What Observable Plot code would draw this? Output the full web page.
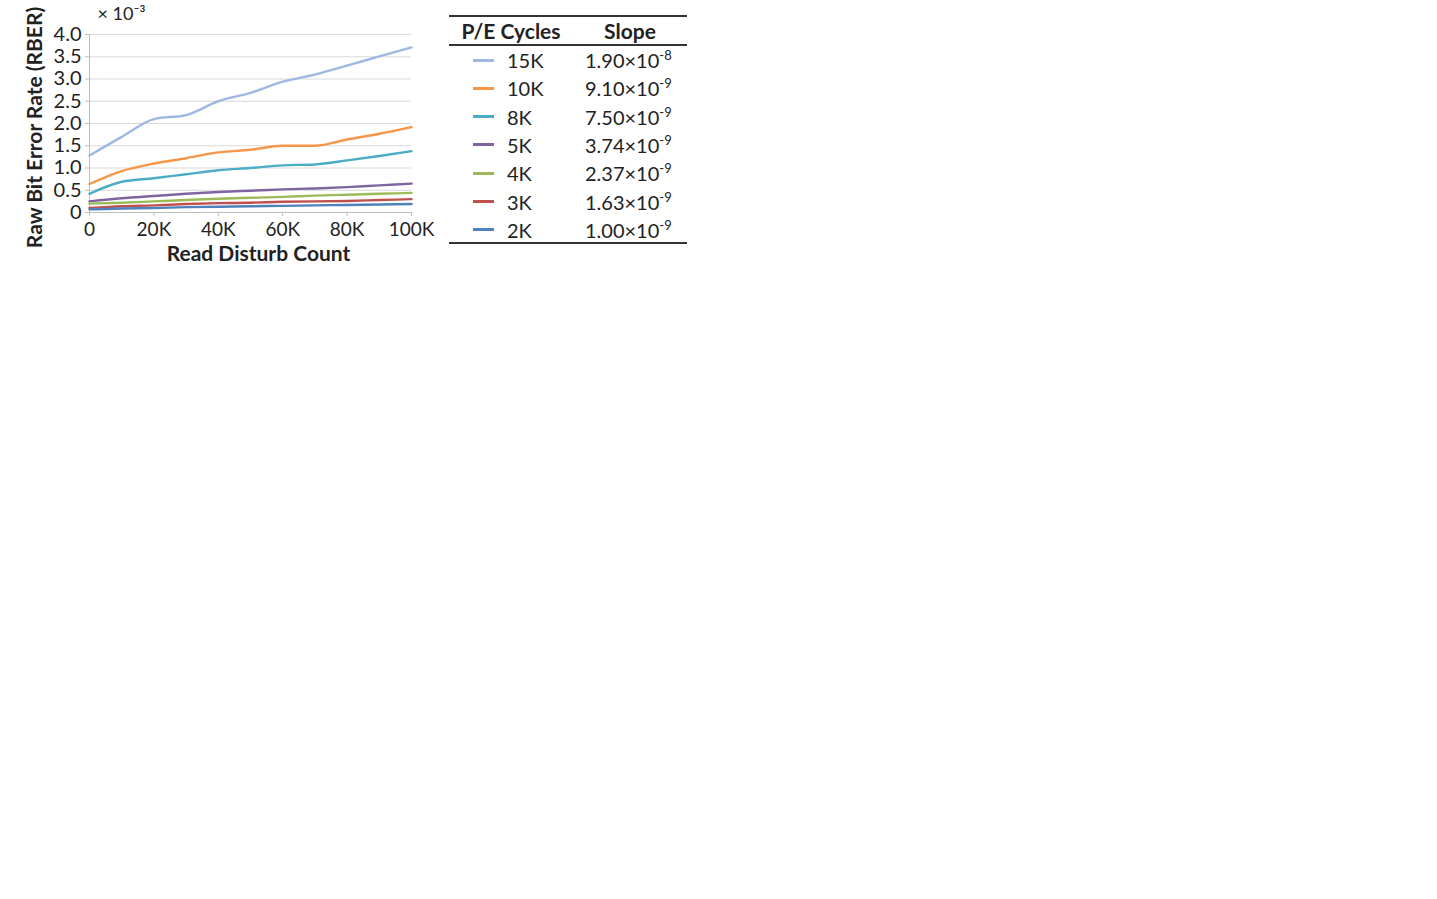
<!DOCTYPE html>
<html><head><meta charset="utf-8">
<script src="https://cdn.jsdelivr.net/npm/d3@7"></script>
<script src="https://cdn.jsdelivr.net/npm/@observablehq/plot@0.6"></script>
<style>
body{margin:0;background:#fff;font-family:Lato,"Open Sans",sans-serif;color:#222;}
#chart{position:absolute;left:0;top:0;}
#legend{position:absolute;left:449px;top:15px;width:238px;height:230px;font-size:20px;}
.hline{position:absolute;left:0;width:238px;background:#333;}
.cell{position:absolute;white-space:nowrap;line-height:22px;}
.sw{position:absolute;left:24px;width:21px;height:3px;}
sup{font-size:13px;vertical-align:0;position:relative;top:-8px;}
</style></head><body>
<div id="chart"></div>
<div id="legend"></div>
<script>
// Data (RBER in units of 10^-3)
const readCounts = [0,10000,20000,30000,40000,50000,60000,70000,80000,90000,100000];
const peCycles = ["15K","10K","8K","5K","4K","3K","2K"];
const seriesColors = ["#9db8e2","#f79646","#4bacc6","#8064a2","#9bbb59","#c0504d","#4f81bd"];
const slopeMantissa = ["1.90","9.10","7.50","3.74","2.37","1.63","1.00"];
const slopeExponent = ["-8","-9","-9","-9","-9","-9","-9"];
const rber15K = [1.28,1.70,2.10,2.19,2.50,2.69,2.94,3.10,3.30,3.51,3.71];
const rber10K = [0.64,0.93,1.10,1.22,1.35,1.41,1.50,1.50,1.64,1.77,1.92];
const rber8K  = [0.42,0.69,0.77,0.86,0.95,1.00,1.06,1.08,1.17,1.27,1.38];
const rber5K  = [0.25,0.32,0.37,0.42,0.46,0.49,0.52,0.54,0.57,0.61,0.65];
const rber4K  = [0.20,0.22,0.25,0.28,0.31,0.33,0.35,0.38,0.40,0.42,0.44];
const rber3K  = [0.10,0.14,0.16,0.19,0.21,0.22,0.24,0.25,0.26,0.28,0.30];
const rber2K  = [0.07,0.09,0.10,0.12,0.13,0.14,0.15,0.16,0.17,0.18,0.19];
const yTicks = [0,0.5,1,1.5,2,2.5,3,3.5,4];
const xTicks = [0,20000,40000,60000,80000,100000];

const allSeries = [rber15K,rber10K,rber8K,rber5K,rber4K,rber3K,rber2K];
const rows = [];
allSeries.forEach((vals,i)=>vals.forEach((v,j)=>rows.push({series:peCycles[i],x:readCounts[j],y:v})));

const chart = Plot.plot({
  width:440, height:270,
  marginLeft:89, marginRight:29, marginTop:34, marginBottom:58,
  style:{fontFamily:"Lato, 'Open Sans', sans-serif", fontSize:"19px", color:"#222", background:"transparent", overflow:"visible"},
  x:{domain:[0,100000]},
  y:{domain:[0,4]},
  color:{domain:peCycles, range:seriesColors},
  marks:[
    Plot.gridY(yTicks,{stroke:"#d9d9d9", strokeOpacity:1}),
    Plot.ruleX([0],{stroke:"#bdbdbd"}),
    Plot.ruleY([0],{stroke:"#bdbdbd"}),
    Plot.axisY(yTicks,{tickSize:4, tickPadding:4, stroke:"#bdbdbd", fill:"#222", label:null, fontSize:20,
      tickFormat:d=>d===0?"0":d.toFixed(1)}),
    Plot.axisX(xTicks,{tickSize:4, tickPadding:6, stroke:"#bdbdbd", fill:"#222", label:null, fontSize:19,
      tickFormat:d=>d===0?"0":(d/1000)+"K"}),
    Plot.line(rows,{x:"x", y:"y", stroke:"series", z:"series", curve:"monotone-x", strokeWidth:2.4}),
    Plot.text(["Raw Bit Error Rate (RBER)"],{frameAnchor:"left", textAnchor:"middle", lineAnchor:"middle", rotate:-90, dx:-54, dy:4, fontWeight:"bold", fontSize:21, fill:"#222"}),
    Plot.text(["Read Disturb Count"],{frameAnchor:"bottom", textAnchor:"middle", lineAnchor:"middle", dy:42, dx:8, fontWeight:"bold", fontSize:21, fill:"#222"}),
    Plot.text(["× 10⁻³"],{frameAnchor:"top-left", lineAnchor:"middle", dx:8, dy:-20, textAnchor:"start", fontSize:18, fill:"#222"})
  ]
});
document.getElementById("chart").appendChild(chart);

// Legend table
const lg = document.getElementById("legend");
let html = '<div class="hline" style="top:0;height:2px"></div>';
html += '<div class="cell" style="left:0;width:124px;text-align:center;top:5px;font-weight:bold;font-size:21px">P/E Cycles</div>';
html += '<div class="cell" style="left:124px;width:114px;text-align:center;top:5px;font-weight:bold;font-size:21px">Slope</div>';
html += '<div class="hline" style="top:29px;height:2px"></div>';
peCycles.forEach((p,i)=>{
  const cy = 45 + i*28.3;
  html += `<div class="sw" style="top:${cy-1.5}px;background:${seriesColors[i]}"></div>`;
  html += `<div class="cell" style="left:58px;top:${cy-11}px">${p}</div>`;
  html += `<div class="cell" style="left:136px;top:${cy-11}px">${slopeMantissa[i]}×10<sup>${slopeExponent[i]}</sup></div>`;
});
html += '<div class="hline" style="top:227px;height:2px"></div>';
lg.innerHTML = html;
</script>
</body></html>
